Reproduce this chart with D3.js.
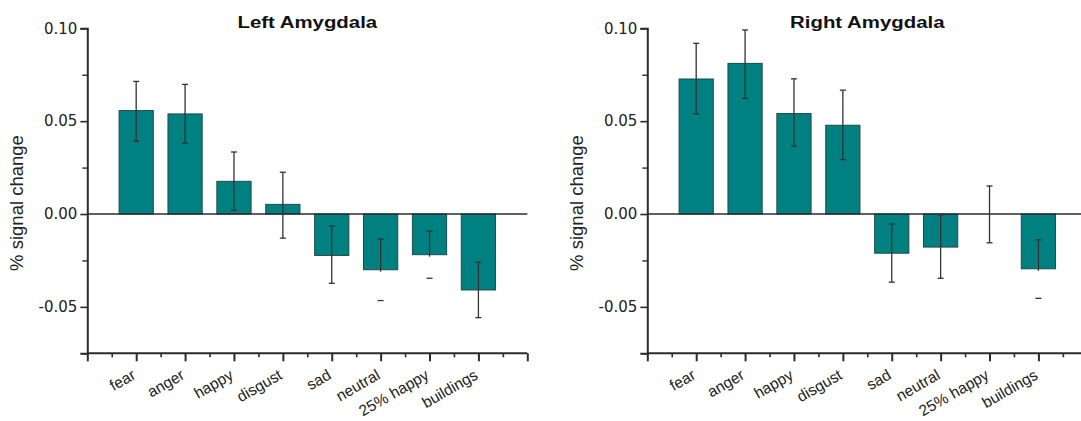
<!DOCTYPE html>
<html>
<head>
<meta charset="utf-8">
<script src="https://cdn.jsdelivr.net/npm/d3@7"></script>
<style>
  html, body { margin: 0; padding: 0; background: #fff; }
  svg { display: block; }
</style>
</head>
<body>
<svg id="chart" width="1081" height="421"></svg>
<script>
const categories = ["fear", "anger", "happy", "disgust", "sad", "neutral", "25% happy", "buildings"];

const leftTitle = "Left Amygdala";
const leftMean    = [0.0557, 0.0539, 0.0176, 0.0052, -0.0223, -0.0300, -0.0219, -0.0409];
const leftErrHigh = [0.0714, 0.0698, 0.0334, 0.0225, -0.0065, -0.0135, -0.0092, -0.0259];
const leftErrLow  = [0.0392, 0.0381, 0.0020, -0.0130, -0.0373, -0.0466, -0.0346, -0.0558];
const leftLowLineShown = [true, true, true, true, true, false, false, true];

const rightTitle = "Right Amygdala";
const rightMean    = [0.0727, 0.0811, 0.0541, 0.0478, -0.0211, -0.0178, 0.0000, -0.0295];
const rightErrHigh = [0.0919, 0.0991, 0.0728, 0.0667, -0.0054, -0.0005, 0.0151, -0.0139];
const rightErrLow  = [0.0539, 0.0622, 0.0365, 0.0293, -0.0367, -0.0346, -0.0155, -0.0454];
const rightLowLineShown = [true, true, true, true, true, true, true, false];

const yMajorTicks = [0.10, 0.05, 0.00, -0.05];
const yTickLabels = ["0.10", "0.05", "0.00", "-0.05"];
const yMinorTicks = [0.075, 0.025, -0.025, -0.075];
const yDomain = [-0.075, 0.10];
const yLabel = "% signal change";

const svg = d3.select("#chart");
const AX = "#2b2b2b";
const BAR = "#008080";

function panel(x0, title, mean, hi, lo, lowShown) {
  const y = d3.scaleLinear().domain(yDomain).range([353.3, 28.3]);
  const x = d3.scaleLinear().domain([0, 9]).range([x0, x0 + 440]);
  const g = svg.append("g");
  const data = categories.map((c, i) => ({c, i, m: mean[i], hi: hi[i], lo: lo[i], show: lowShown[i]}));
  const bw = x(0.7) - x(0);

  // bars
  g.selectAll("rect.bar").data(data.filter(d => d.m !== 0)).join("rect")
    .attr("x", d => x(d.i + 1) - bw / 2)
    .attr("width", bw)
    .attr("y", d => y(Math.max(0, d.m)))
    .attr("height", d => Math.abs(y(d.m) - y(0)))
    .attr("fill", BAR)
    .attr("stroke", "#1f4a4a")
    .attr("stroke-width", 1);

  // zero line
  g.append("line")
    .attr("x1", x(0)).attr("x2", x(9))
    .attr("y1", y(0)).attr("y2", y(0))
    .attr("stroke", AX).attr("stroke-width", 1.6);

  // error bars
  const eb = g.selectAll("g.eb").data(data).join("g").attr("stroke", "#333").attr("stroke-width", 1.3);
  eb.append("line")
    .attr("x1", d => x(d.i + 1)).attr("x2", d => x(d.i + 1))
    .attr("y1", d => y(d.hi))
    .attr("y2", d => d.show ? y(d.lo) : y(Math.min(d.m, 0)) + 2);
  eb.append("line")
    .attr("x1", d => x(d.i + 1) - 3).attr("x2", d => x(d.i + 1) + 3)
    .attr("y1", d => y(d.hi)).attr("y2", d => y(d.hi));
  eb.append("line")
    .attr("x1", d => x(d.i + 1) - 3).attr("x2", d => x(d.i + 1) + 3)
    .attr("y1", d => y(d.lo)).attr("y2", d => y(d.lo));

  // y axis
  const yAxis = g.append("g").attr("transform", `translate(${x(0)},0)`)
    .call(d3.axisLeft(y).tickValues(yMajorTicks).tickSize(7).tickPadding(3)
      .tickFormat((d, i) => yTickLabels[i]));
  yAxis.select(".domain").attr("stroke", AX).attr("stroke-width", 2);
  yAxis.selectAll(".tick line").attr("stroke", AX).attr("stroke-width", 1.6);
  yAxis.selectAll(".tick text").attr("fill", "#222")
    .style("font-family", "'DejaVu Sans', sans-serif").style("font-size", "15px");
  g.append("g").attr("transform", `translate(${x(0)},0)`)
    .call(d3.axisLeft(y).tickValues(yMinorTicks).tickSize(5).tickFormat(""))
    .call(a => a.select(".domain").remove())
    .selectAll(".tick line").attr("stroke", AX).attr("stroke-width", 1.4);

  // x axis
  const majors = d3.range(0, 10);
  const minors = d3.range(0.5, 9, 1);
  g.append("line").attr("x1", x(0)).attr("x2", x(9)).attr("y1", y(-0.075)).attr("y2", y(-0.075))
    .attr("stroke", AX).attr("stroke-width", 2);
  g.append("g").attr("transform", `translate(0,${y(-0.075)})`)
    .call(d3.axisBottom(x).tickValues(majors).tickSize(8).tickFormat(""))
    .call(a => a.select(".domain").remove())
    .selectAll(".tick line").attr("stroke", AX).attr("stroke-width", 2);
  g.append("g").attr("transform", `translate(0,${y(-0.075)})`)
    .call(d3.axisBottom(x).tickValues(minors).tickSize(4).tickFormat(""))
    .call(a => a.select(".domain").remove())
    .selectAll(".tick line").attr("stroke", AX).attr("stroke-width", 1.6);

  // x labels
  g.selectAll("text.xl").data(data).join("text")
    .attr("transform", d => `translate(${x(d.i + 1) + 0.5},378) rotate(-30)`)
    .attr("text-anchor", "end")
    .attr("fill", "#222")
    .style("font-family", "'Liberation Sans', Arial, sans-serif")
    .style("font-size", "15.5px")
    .text(d => d.c);

  // y label
  g.append("text")
    .attr("transform", `translate(${x0 - 64},203) rotate(-90)`)
    .attr("text-anchor", "middle")
    .attr("fill", "#222")
    .style("font-family", "'Liberation Sans', Arial, sans-serif")
    .style("font-size", "18.5px")
    .text(yLabel);

  // title
  const cx = (x(0) + x(9)) / 2;
  g.append("text")
    .attr("transform", `translate(${cx},28) scale(1.2,1)`)
    .attr("text-anchor", "middle")
    .attr("fill", "#111")
    .style("font-family", "'Liberation Sans', Arial, sans-serif")
    .style("font-weight", "bold")
    .style("font-size", "17px")
    .text(title);
}

panel(87.3, leftTitle, leftMean, leftErrHigh, leftErrLow, leftLowLineShown);
panel(647.3, rightTitle, rightMean, rightErrHigh, rightErrLow, rightLowLineShown);
</script>
</body>
</html>
